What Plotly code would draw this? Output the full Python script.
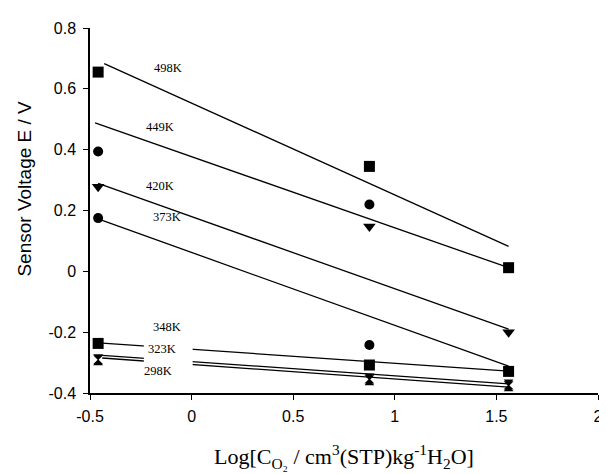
import plotly.graph_objects as go

# ---- data ----
x_pts = [-0.46, 0.875, 1.56]

v498 = [0.655, 0.345, 0.012]      # squares
v449 = [0.394, 0.220, None]       # circles
v420 = [0.278, 0.147, -0.200]     # triangles down
v373 = [0.175, -0.242, None]      # circles
v348 = [-0.237, -0.308, -0.329]   # squares
v323 = [-0.289, -0.352, -0.372]   # hourglass
v298 = [-0.292, -0.358, -0.378]   # hourglass

# fitted lines (start / end)
fit_x = {
    "498K": [-0.43, 1.56], "449K": [-0.475, 1.56], "420K": [-0.46, 1.56],
    "373K": [-0.45, 1.56], "348K": [-0.44, 1.56], "323K": [-0.44, 1.56],
    "298K": [-0.44, 1.56],
}
fit_y = {
    "498K": [0.683, 0.082], "449K": [0.488, 0.012], "420K": [0.289, -0.190],
    "373K": [0.170, -0.312], "348K": [-0.236, -0.328], "323K": [-0.276, -0.370],
    "298K": [-0.285, -0.381],
}

# label positions (text anchors)
lab_names = ["498K", "449K", "420K", "373K", "348K", "323K", "298K"]
lab_x = [-0.117, -0.156, -0.156, -0.122, -0.122, -0.146, -0.166]
lab_y = [0.668, 0.476, 0.282, 0.178, -0.184, -0.255, -0.327]

x_ticks = [-0.5, 0, 0.5, 1, 1.5, 2]
x_tick_text = ["-0.5", "0", "0.5", "1", "1.5", "2"]
y_ticks = [-0.4, -0.2, 0, 0.2, 0.4, 0.6, 0.8]
y_tick_text = ["-0.4", "-0.2", "0", "0.2", "0.4", "0.6", "0.8"]

x_title = "Log[C<sub>O₂</sub> / cm<sup>3</sup>(STP)kg<sup>-1</sup>H<sub>2</sub>O]"
y_title = "Sensor Voltage E / V"

fig = go.Figure()

for name in lab_names:
    fig.add_trace(go.Scatter(x=fit_x[name], y=fit_y[name], mode="lines",
                             line=dict(color="black", width=1.3),
                             showlegend=False, hoverinfo="skip"))

markers = [
    (v498, "square", 11),
    (v449, "circle", 10),
    (v420, "triangle-down", 11),
    (v373, "circle", 10),
    (v348, "square", 11),
    (v323, "hourglass", 10),
    (v298, "hourglass", 10),
]
for vals, sym, sz in markers:
    fig.add_trace(go.Scatter(x=x_pts, y=vals, mode="markers",
                             marker=dict(symbol=sym, size=sz, color="black",
                                         line=dict(width=0)),
                             showlegend=False))

# white patch behind the lower labels (lines are interrupted there)
fig.add_shape(type="rect", x0=-0.235, x1=0.005, y0=-0.318, y1=-0.240,
              fillcolor="white", line=dict(width=0), layer="above")

for name, lx, ly in zip(lab_names, lab_x, lab_y):
    fig.add_annotation(x=lx, y=ly, text=name, showarrow=False,
                       font=dict(family="Liberation Serif", size=12.5, color="black"))

# axis titles
fig.add_annotation(xref="paper", yref="paper", x=0.5, y=0, yshift=-63,
                   xanchor="center", yanchor="middle", showarrow=False,
                   text=x_title, font=dict(family="Liberation Serif", size=22, color="black"))
fig.add_annotation(xref="paper", yref="paper", x=0, y=0.56, xshift=-65,
                   xanchor="center", yanchor="middle", showarrow=False, textangle=-90,
                   text=y_title, font=dict(family="Liberation Sans", size=19, color="black"))

fig.update_layout(
    width=607, height=474,
    margin=dict(l=82, r=16, t=16, b=89),
    paper_bgcolor="white", plot_bgcolor="white",
    showlegend=False,
    font=dict(family="Liberation Sans", color="black"),
)
fig.update_xaxes(range=[-0.5, 2], tickvals=x_ticks, ticktext=x_tick_text,
                 showgrid=False, zeroline=False, showline=True, linecolor="black",
                 linewidth=1.5, ticks="outside", ticklen=5, tickwidth=1.2,
                 tickcolor="black", tickfont=dict(size=16, family="Liberation Sans"),
                 ticklabelstandoff=3, ticklabeloverflow="allow")
fig.update_yaxes(range=[-0.4, 0.8], tickvals=y_ticks, ticktext=y_tick_text,
                 showgrid=False, zeroline=False, showline=True, linecolor="black",
                 linewidth=1.5, ticks="outside", ticklen=5, tickwidth=1.2,
                 tickcolor="black", tickfont=dict(size=16, family="Liberation Sans"),
                 ticklabelstandoff=4, ticklabeloverflow="allow")

fig.write_html("out.html")
